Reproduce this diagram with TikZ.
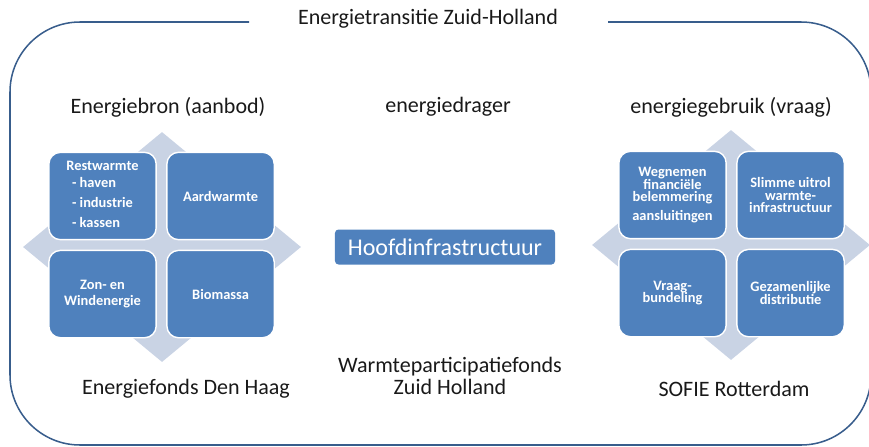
\documentclass[tikz,border=0pt]{standalone}
\usepackage{fontspec}
\setmainfont{Carlito}
\usepackage{tikz}
\usetikzlibrary{shapes.geometric, positioning}

\definecolor{tegelblauw}{RGB}{79,129,189}
\definecolor{ruitgrijs}{RGB}{201,211,228}
\definecolor{kaderblauw}{RGB}{56,93,140}
\definecolor{tekstgrijs}{RGB}{25,25,25}

\begin{document}
\begin{tikzpicture}[x=0.03cm, y=-0.03cm, node distance=0.28cm,
                  tegel/.style={rectangle, rounded corners=0.35cm,
                  fill=tegelblauw, draw=white, line width=1.2pt,
                  minimum width=3.22cm, minimum height=2.62cm, inner sep=2pt,
                  text=white, align=center,
                  font=\fontsize{12.3}{11}\selectfont\bfseries},
                  ruit/.style={diamond, fill=ruitgrijs, inner sep=0pt,
                  minimum width=8.34cm, minimum height=6.9cm},
                  kop/.style={text=tekstgrijs, align=center,
                  font=\fontsize{18.8}{18}\selectfont}]

                  \useasboundingbox (0,0) rectangle (869,446);

                  % Het kader met de titel.
                  \node[kop] (titel) at (428,19) {Energietransitie Zuid-Holland};
                  \coordinate (gapL) at (249,22);
                  \coordinate (gapR) at (608,22);
                  \draw[kaderblauw, line width=1.3pt, rounded corners=2.1cm]
                  (gapL) -- (10,22) -- (10,445) -- (871,445) -- (871,22) -- (gapR);

                  % Kopjes boven en onder.
                  \node[kop] (bron) at (168,107) {Energiebron (aanbod)};
                  \node[kop] (drager) at (448,107) {energiedrager};
                  \node[kop] (gebruik) at (731,107) {energiegebruik (vraag)};
                  \node[kop] (fondsdh) at (186,389) {Energiefonds Den Haag};
                  \node[kop] (fondszh) at (450,376)
                  {Warmteparticipatiefonds\\[1pt]Zuid Holland};
                  \node[kop] (sofie) at (734,389) {SOFIE Rotterdam};

                  % Aanbod: ruit met vier tegels.
                  \node[ruit] (ruitL) at (162,247) {};
                  \node[tegel] (rest) at (102.5,196)
                  {Restwarmte\\[5pt]
                  \begin{tabular}{@{}l@{}}- haven\\[5pt] - industrie\\[5pt] - kassen\end{tabular}};
                  \node[tegel, right=of rest] (aard) {Aardwarmte};
                  \node[tegel, below=of rest] (zon) {Zon- en\\[2pt]Windenergie};
                  \node[tegel, right=of zon] (bio) {Biomassa};

                  % Drager in het midden.
                  \node[rectangle, rounded corners=3pt, fill=tegelblauw,
                  minimum width=6.6cm, minimum height=1.05cm, text=white,
                  font=\fontsize{20.5}{22}\selectfont] (hoofd) at (445,247)
                  {Hoofdinfrastructuur};

                  % Vraag: ruit met vier tegels.
                  \node[ruit] (ruitR) at (731,245) {};
                  \node[tegel] (weg) at (672.5,195)
                  {Wegnemen\\financiële\\belemmering\\[5pt]aansluitingen};
                  \node[tegel, right=of weg] (uitrol)
                  {Slimme uitrol\\warmte-\\infrastructuur};
                  \node[tegel, below=of weg] (bundel) {Vraag-\\bundeling};
                  \node[tegel, right=of bundel] (distri)
                  {Gezamenlijke\\distributie};

                \end{tikzpicture}
\end{document}
